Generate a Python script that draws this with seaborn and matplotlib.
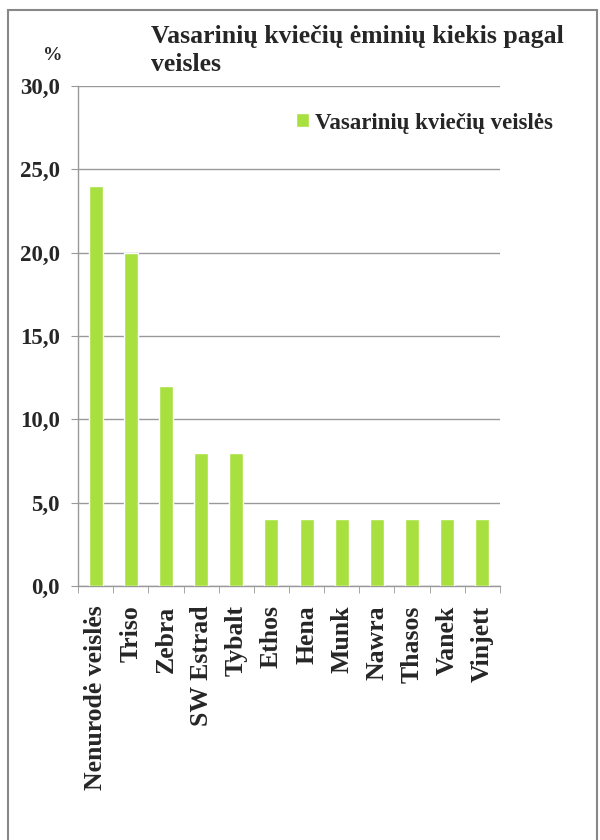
import numpy as np
import pandas as pd
import seaborn as sns
import matplotlib.pyplot as plt
from matplotlib.patches import Rectangle

veisles = ['Nenurodė veislės', 'Triso', 'Zebra', 'SW Estrad', 'Tybalt', 'Ethos',
           'Hena', 'Munk', 'Nawra', 'Thasos', 'Vanek', 'Vinjett']
procentai = [24.0, 20.0, 12.0, 8.0, 8.0, 4.0, 4.0, 4.0, 4.0, 4.0, 4.0, 4.0]
y_ticks = [0, 5, 10, 15, 20, 25, 30]

sns.set_style('white')
plt.rcParams['font.family'] = ['Liberation Serif', 'DejaVu Serif']
plt.rcParams['font.weight'] = 'bold'

df = pd.DataFrame({'veisle': veisles, 'proc': procentai})

fig = plt.figure(figsize=(6, 8.4), dpi=100)
ax = fig.add_axes([78/600, 1 - 586/840, (500 - 78)/600, (586 - 86)/840])

sns.barplot(data=df, x='veisle', y='proc', color='#A8E040', saturation=1, width=0.4,
            label='Vasarinių kviečių veislės', ax=ax, zorder=3)

ax.set_ylim(0, 30)
ax.set_xlim(-0.5, len(veisles) - 0.5)
ax.set_yticks(y_ticks)
ax.set_yticklabels([f'{v:.1f}'.replace('.', ',') for v in y_ticks], fontsize=16.5, fontweight='bold')
ax.set_xticks(range(len(veisles)))
ax.set_xticklabels(veisles, rotation=90, fontsize=18.5, fontweight='bold')
ax.set_xticks(np.arange(-0.5, len(veisles)), minor=True)
ax.tick_params(axis='x', which='major', length=0, pad=14)
ax.tick_params(axis='x', which='minor', length=5, color='#999999', direction='out', bottom=True)
ax.tick_params(axis='y', length=5, color='#999999', direction='out', left=True, pad=8)
ax.set_xlabel('')
ax.set_ylabel('')
ax.yaxis.grid(True, color='#999999', linewidth=1, zorder=0)
ax.set_axisbelow(True)
for s in ['top', 'right']:
    ax.spines[s].set_visible(False)
for s in ['left', 'bottom']:
    ax.spines[s].set_color('#999999')
    ax.spines[s].set_linewidth(1)

ax.legend(loc='center left', bbox_to_anchor=(296/600, 1 - 123/840),
          bbox_transform=fig.transFigure, frameon=False, borderaxespad=0, borderpad=0,
          prop={'family': 'Liberation Serif', 'weight': 'bold', 'size': 16.5},
          handlelength=0.55, handleheight=0.55, handletextpad=0.3)

fig.text(151/600, 1 - 43/840, 'Vasarinių kviečių ėminių kiekis pagal',
         ha='left', va='baseline', fontsize=18.5, fontweight='bold')
fig.text(151/600, 1 - 71/840, 'veisles',
         ha='left', va='baseline', fontsize=18.5, fontweight='bold')
fig.text(53/600, 1 - 55/840, '%', ha='center', va='center', fontsize=14, fontweight='bold')

fig.patches.append(Rectangle((8/600, -0.1), 589/600, 1.1 - 10/840, transform=fig.transFigure,
                             fill=False, edgecolor='#888888', linewidth=1.5))

fig.savefig('out.png', dpi=100)
